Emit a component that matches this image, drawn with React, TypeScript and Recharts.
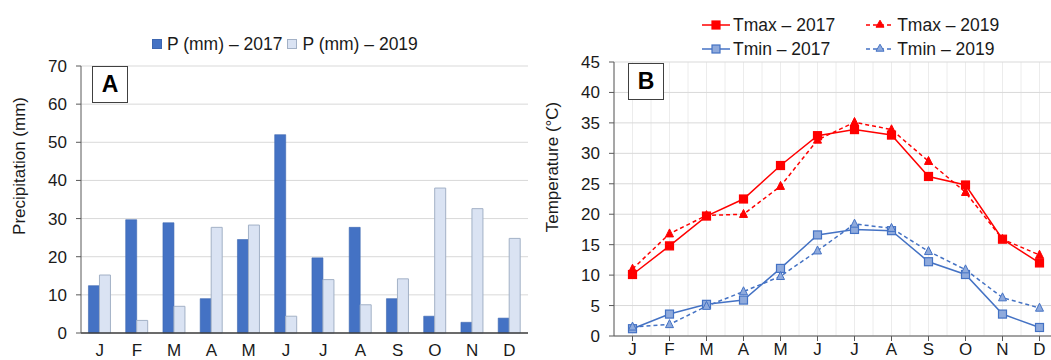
import React from 'react';
import { BarChart, Bar, LineChart, Line, XAxis, YAxis, CartesianGrid, Legend } from 'recharts';

const months = ['J', 'F', 'M', 'A', 'M', 'J', 'J', 'A', 'S', 'O', 'N', 'D'];
const monthNums = [1, 2, 3, 4, 5, 6, 7, 8, 9, 10, 11, 12];

const precip2017 = [12.4, 29.7, 28.9, 9.0, 24.5, 52.0, 19.7, 27.7, 9.0, 4.4, 2.8, 3.9];
const precip2019 = [15.2, 3.3, 7.0, 27.7, 28.3, 4.4, 14.0, 7.4, 14.2, 38.0, 32.6, 24.8];

const tmax2017 = [10.1, 14.8, 19.7, 22.5, 28.0, 32.9, 33.9, 33.0, 26.2, 24.8, 15.9, 12.0];
const tmax2019 = [11.0, 16.8, 19.8, 20.0, 24.6, 32.2, 35.1, 33.9, 28.7, 23.6, 15.9, 13.3];
const tmin2017 = [1.2, 3.6, 5.2, 5.9, 11.1, 16.6, 17.5, 17.3, 12.2, 10.1, 3.6, 1.4];
const tmin2019 = [1.5, 1.9, 4.9, 7.3, 9.8, 14.0, 18.4, 17.7, 13.9, 10.9, 6.3, 4.6];

const precipTicks = [0, 10, 20, 30, 40, 50, 60, 70];
const tempTicks = [0, 5, 10, 15, 20, 25, 30, 35, 40, 45];
const halfTicks = [0.5, 1, 1.5, 2, 2.5, 3, 3.5, 4, 4.5, 5, 5.5, 6, 6.5, 7, 7.5, 8, 8.5, 9, 9.5, 10, 10.5, 11, 11.5, 12, 12.5];

const precipData = months.map((month, i) => ({ month, p2017: precip2017[i], p2019: precip2019[i] }));
const tempData = monthNums.map((m, i) => ({
  m,
  tmax2017: tmax2017[i],
  tmax2019: tmax2019[i],
  tmin2017: tmin2017[i],
  tmin2019: tmin2019[i],
}));

const FONT = '"Liberation Sans", Arial, sans-serif';
const TEXT = '#1a1a1a';
const AXIS = '#595959';
const RED = '#FF0000';
const BLUE = '#4472C4';
const LIGHT_BLUE = '#8FAADC';
const tickStyle = { fill: TEXT, fontSize: 17, fontFamily: FONT };

const squareDot = (fill: string, stroke: string, size: number) => (props: any) => {
  const { cx, cy, index } = props;
  if (cx == null || cy == null) return <g key={index} />;
  return (
    <rect key={index} x={cx - size / 2} y={cy - size / 2} width={size} height={size}
      fill={fill} stroke={stroke} strokeWidth={1.2} />
  );
};

const triangleDot = (fill: string, stroke: string, size: number) => (props: any) => {
  const { cx, cy, index } = props;
  if (cx == null || cy == null) return <g key={index} />;
  const pts = `${cx},${cy - size * 0.6} ${cx + size / 2},${cy + size * 0.4} ${cx - size / 2},${cy + size * 0.4}`;
  return <polygon key={index} points={pts} fill={fill} stroke={stroke} strokeWidth={1} />;
};

const tempSeries = [
  { key: 'tmax2017', name: 'Tmax – 2017', color: RED, dash: undefined, marker: 'square', fill: RED },
  { key: 'tmax2019', name: 'Tmax – 2019', color: RED, dash: '4 3', marker: 'triangle', fill: RED },
  { key: 'tmin2017', name: 'Tmin – 2017', color: BLUE, dash: undefined, marker: 'square', fill: LIGHT_BLUE },
  { key: 'tmin2019', name: 'Tmin – 2019', color: BLUE, dash: '4 3', marker: 'triangle', fill: LIGHT_BLUE },
];

function PrecipLegend() {
  const items = [
    { name: 'P (mm) – 2017', fill: BLUE, stroke: '#3d66b0' },
    { name: 'P (mm) – 2019', fill: '#DAE3F3', stroke: '#a3b1c6' },
  ];
  return (
    <div style={{ display: 'flex', alignItems: 'center', paddingLeft: 152, height: 22, fontFamily: FONT, fontSize: 17.5, color: TEXT }}>
      {items.map((it) => (
        <div key={it.name} style={{ display: 'flex', alignItems: 'center', marginRight: 5 }}>
          <div style={{ width: 8, height: 8, background: it.fill, border: `1px solid ${it.stroke}`, marginRight: 5 }} />
          <span style={{ whiteSpace: 'nowrap' }}>{it.name}</span>
        </div>
      ))}
    </div>
  );
}

function TempLegend() {
  return (
    <div style={{ display: 'grid', gridTemplateColumns: 'auto auto', columnGap: 31, paddingLeft: 172, fontFamily: FONT, fontSize: 17.5, color: TEXT, justifyContent: 'start' }}>
      {tempSeries.map((s) => (
        <div key={s.key} style={{ display: 'flex', alignItems: 'center', height: 24 }}>
          <svg width={28} height={14} style={{ marginRight: 3 }}>
            <line x1={0} y1={7} x2={28} y2={7} stroke={s.color} strokeWidth={1.5} strokeDasharray={s.dash} />
            {s.marker === 'square'
              ? <rect x={10} y={3} width={8} height={8} fill={s.fill} stroke={s.color} strokeWidth={1.2} />
              : <polygon points="14,2.2 18,9.2 10,9.2" fill={s.fill} stroke={s.color} strokeWidth={1} />}
          </svg>
          <span style={{ whiteSpace: 'nowrap' }}>{s.name}</span>
        </div>
      ))}
    </div>
  );
}

const panelBox = (left: number, top: number, letter: string) => (
  <div style={{
    position: 'absolute', left, top, width: 34, height: 35, border: '1px solid #404040', background: '#fff',
    display: 'flex', alignItems: 'center', justifyContent: 'center',
    fontFamily: FONT, fontWeight: 'bold', fontSize: 23, color: '#000',
  }}>{letter}</div>
);

function PrecipChart() {
  return (
    <BarChart width={540} height={360} data={precipData} margin={{ top: 66, right: 12, left: 0, bottom: 0 }}
      barCategoryGap="20%" barGap={0}>
      <CartesianGrid vertical={false} stroke="#d9d9d9" />
      <XAxis dataKey="month" tick={tickStyle} tickLine={false} tickSize={5} tickMargin={6} height={27}
        interval={0} axisLine={{ stroke: '#404040', strokeWidth: 1.5 }} />
      <XAxis xAxisId="top" dataKey="month" orientation="top" tick={false} tickLine={false} height={0}
        axisLine={{ stroke: AXIS }} />
      <YAxis domain={[0, 70]} ticks={precipTicks} tick={tickStyle} tickSize={5} tickMargin={9} width={81}
        interval={0} axisLine={{ stroke: AXIS }} tickLine={{ stroke: AXIS }}
        label={{
          content: () => (
            <text x={19} y={166} transform="rotate(-90, 19, 166)" textAnchor="middle" dominantBaseline="central"
              fill={TEXT} fontSize={17} fontFamily={FONT}>Precipitation  (mm)</text>
          ),
        }} />
      <YAxis yAxisId="right" orientation="right" domain={[0, 70]} tick={false} tickLine={false} width={0}
        axisLine={{ stroke: AXIS }} />
      <Legend layout="horizontal" verticalAlign="middle" align="center" content={() => <PrecipLegend />}
        wrapperStyle={{ left: 0, top: 33, width: 540 }} />
      <Bar dataKey="p2017" name="P (mm) – 2017" fill={BLUE} stroke="#3d66b0" strokeWidth={0.6} isAnimationActive={false} />
      <Bar dataKey="p2019" name="P (mm) – 2019" fill="#DAE3F3" stroke="#a3b1c6" strokeWidth={1} isAnimationActive={false} />
    </BarChart>
  );
}

function TempChart() {
  return (
    <LineChart width={540} height={360} data={tempData} margin={{ top: 62, right: 12, left: 0, bottom: 0 }}>
      <CartesianGrid xAxisId="half" horizontal={false} stroke="#ececec" />
      <CartesianGrid vertical={false} stroke="#d9d9d9" />
      <XAxis dataKey="m" type="number" domain={[0.5, 12.5]} ticks={monthNums} interval={0}
        tickFormatter={(v: number) => months[v - 1]} tick={tickStyle} tickSize={5} tickMargin={2} height={24}
        axisLine={{ stroke: AXIS }} tickLine={{ stroke: AXIS }} />
      <XAxis xAxisId="half" dataKey="m" type="number" domain={[0.5, 12.5]} ticks={halfTicks} interval={0} hide />
      <XAxis xAxisId="top" dataKey="m" type="number" domain={[0.5, 12.5]} orientation="top" tick={false}
        tickLine={false} height={0} axisLine={{ stroke: AXIS }} />
      <YAxis domain={[0, 45]} ticks={tempTicks} tick={tickStyle} tickSize={5} tickMargin={9} width={84}
        interval={0} axisLine={{ stroke: AXIS }} tickLine={{ stroke: AXIS }}
        label={{
          content: () => (
            <text x={22} y={167} transform="rotate(-90, 22, 167)" textAnchor="middle" dominantBaseline="central"
              fill={TEXT} fontSize={17} fontFamily={FONT}>Temperature (°C)</text>
          ),
        }} />
      <YAxis yAxisId="right" orientation="right" domain={[0, 45]} tick={false} tickLine={false} width={0}
        axisLine={{ stroke: AXIS }} />
      <Legend layout="horizontal" verticalAlign="middle" align="center" content={() => <TempLegend />}
        wrapperStyle={{ left: 0, top: 13, width: 540 }} />
      {tempSeries.map((s) => (
        <Line key={s.key} dataKey={s.key} name={s.name} stroke={s.color} strokeWidth={1.5}
          strokeDasharray={s.dash}
          dot={s.marker === 'square' ? squareDot(s.fill, s.color, 8) : triangleDot(s.fill, s.color, 8)}
          activeDot={false} isAnimationActive={false} />
      ))}
    </LineChart>
  );
}

export default function App() {
  return (
    <div style={{ position: 'absolute', left: 0, top: 0, width: 1051, height: 360, overflow: 'hidden', background: '#fff' }}>
      <div style={{ position: 'absolute', left: 0, top: 0 }}>
        <PrecipChart />
      </div>
      <div style={{ position: 'absolute', left: 530, top: 0 }}>
        <TempChart />
      </div>
      {panelBox(92, 66, 'A')}
      {panelBox(628, 63, 'B')}
    </div>
  );
}
